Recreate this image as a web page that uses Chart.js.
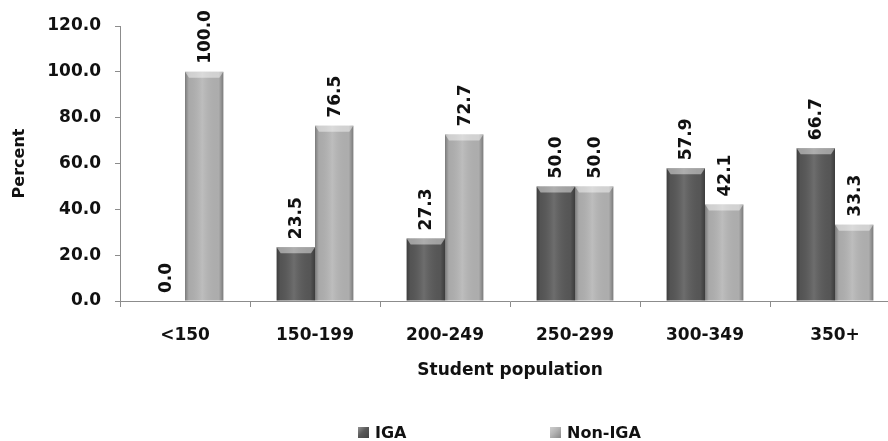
<!DOCTYPE html>
<html>
<head>
<meta charset="utf-8">
<script src="https://cdn.jsdelivr.net/npm/chart.js@4.4.0/dist/chart.umd.min.js"></script>
<style>
    body { margin: 0; overflow: hidden; background: #fff; }
    #wrap { position: relative; width: 900px; height: 441px; }
    #legend { position: absolute; top: 423px; left: 0; width: 888px; height: 18px; font: bold 16px 'DejaVu Sans'; color: #111; }
    .item { position: absolute; top: 0; display: flex; align-items: center; height: 18px; }
    .sw { width: 11px; height: 11px; margin-right: 6px; }
</style>
</head>
<body>
<div id="wrap">
    <canvas id="myChart" width="900" height="441"></canvas>
    <div id="legend"></div>
</div>
<script>
const categories = ['<150', '150-199', '200-249', '250-299', '300-349', '350+']
const igaValues = [0.0, 23.5, 27.3, 50.0, 57.9, 66.7]
const nonIgaValues = [100.0, 76.5, 72.7, 50.0, 42.1, 33.3]
const seriesNames = ['IGA', 'Non-IGA']
const yMin = 0
const yMax = 120
const yStep = 20

const font = 'DejaVu Sans'
const axisGray = '#8c8c8c'

// bevel / cylinder look on top of the plain bars
const shading = {
    id: 'shading',
    afterDatasetsDraw(chart) {
        const ctx = chart.ctx
        chart.data.datasets.forEach((ds, i) => {
            chart.getDatasetMeta(i).data.forEach(bar => {
                const { x, y, base, width } = bar.getProps(['x', 'y', 'base', 'width'], true)
                const l = x - width / 2, r = x + width / 2, h = base - y
                if (h <= 0) return
                const g = ctx.createLinearGradient(l, 0, r, 0)
                g.addColorStop(0, 'rgba(0,0,0,0.32)')
                g.addColorStop(0.1, 'rgba(0,0,0,0.06)')
                g.addColorStop(0.45, 'rgba(255,255,255,0.12)')
                g.addColorStop(0.88, 'rgba(0,0,0,0.04)')
                g.addColorStop(1, 'rgba(0,0,0,0.32)')
                ctx.save()
                ctx.fillStyle = g
                ctx.fillRect(l, y, width, h)
                const b = Math.min(6, h)
                ctx.fillStyle = 'rgba(255,255,255,0.45)'
                ctx.beginPath()
                ctx.moveTo(l, y)
                ctx.lineTo(r, y)
                ctx.lineTo(r - 4, y + b)
                ctx.lineTo(l + 4, y + b)
                ctx.closePath()
                ctx.fill()
                ctx.restore()
            })
        })
    }
}

const valueLabels = {
    id: 'valueLabels',
    afterDatasetsDraw(chart) {
        const ctx = chart.ctx
        ctx.save()
        ctx.font = 'bold 17px ' + font
        ctx.fillStyle = '#111'
        ctx.textAlign = 'left'
        ctx.textBaseline = 'middle'
        chart.data.datasets.forEach((ds, i) => {
            chart.getDatasetMeta(i).data.forEach((bar, j) => {
                const { x, y } = bar.getProps(['x', 'y'], true)
                ctx.save()
                ctx.translate(x + 1, y - 8)
                ctx.rotate(-Math.PI / 2)
                ctx.fillText(ds.data[j].toFixed(1), 0, 0)
                ctx.restore()
            })
        })
        ctx.restore()
    }
}

const dataConfig = {
    labels: categories,
    datasets: [{
        label: seriesNames[0],
        data: igaValues,
        backgroundColor: '#595959',
        categoryPercentage: 0.59,
        barPercentage: 1.0
    }, {
        label: seriesNames[1],
        data: nonIgaValues,
        backgroundColor: '#b4b4b4',
        categoryPercentage: 0.59,
        barPercentage: 1.0
    }]
}

const config = {
    type: 'bar',
    data: dataConfig,
    plugins: [shading, valueLabels],
    options: {
        responsive: false,
        animation: false,
        layout: { padding: { top: 26, left: 0, right: 0, bottom: 0 } },
        plugins: {
            legend: { display: false },
            tooltip: { enabled: false }
        },
        scales: {
            x: {
                afterFit: scale => { scale.height = 140 },
                grid: { drawOnChartArea: false, tickLength: 6, color: axisGray, offset: true },
                border: { color: axisGray },
                ticks: { color: '#111', padding: 18, font: { family: font, size: 17, weight: 'bold' } },
                title: {
                    display: true,
                    text: 'Student population',
                    color: '#111',
                    font: { family: font, size: 17, weight: 'bold' },
                    padding: { top: 0, bottom: 60 }
                }
            },
            y: {
                min: yMin,
                max: yMax,
                afterFit: scale => { scale.width = 120 },
                grid: { drawOnChartArea: false, tickLength: 5, color: axisGray },
                border: { color: axisGray },
                ticks: {
                    stepSize: yStep,
                    color: '#111',
                    padding: 14,
                    font: { family: font, size: 17, weight: 'bold' },
                    callback: v => v.toFixed(1)
                },
                title: {
                    display: true,
                    text: 'Percent',
                    color: '#111',
                    font: { family: font, size: 16, weight: 'bold' },
                    padding: { top: 10, bottom: 0 }
                }
            }
        }
    }
}

const myChart = new Chart(document.getElementById('myChart'), config)

// legend below the axis title
const legendPos = [358, 550]
const legendEl = document.getElementById('legend')
myChart.data.datasets.forEach((ds, i) => {
    const item = document.createElement('div')
    item.className = 'item'
    item.style.left = legendPos[i] + 'px'
    const sw = document.createElement('span')
    sw.className = 'sw'
    sw.style.background = 'linear-gradient(135deg, rgba(255,255,255,0.35), ' + ds.backgroundColor + ' 45%, rgba(0,0,0,0.25))'
    sw.style.backgroundColor = ds.backgroundColor
    item.appendChild(sw)
    item.appendChild(document.createTextNode(ds.label))
    legendEl.appendChild(item)
})
</script>
</body>
</html>
